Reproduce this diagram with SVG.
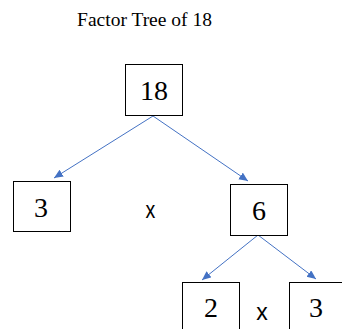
<svg xmlns="http://www.w3.org/2000/svg" width="342" height="329" viewBox="0 0 342 329">
<style>
.box{fill:#fff;stroke:#000;stroke-width:1}
.num{font-family:"Liberation Serif",serif;font-size:28px;fill:#000;text-anchor:middle}
.op{font-family:"Liberation Sans",sans-serif;font-size:23px;fill:#000;text-anchor:middle}
.edge{stroke:#4472C4;stroke-width:1;fill:none;marker-end:url(#ah)}
</style>
<defs>
<marker id="ah" markerUnits="userSpaceOnUse" markerWidth="10" markerHeight="10" refX="9" refY="4" orient="auto">
<path d="M0,0 L9,4 L0,8 Z" fill="#4472C4"/>
</marker>
</defs>
<rect width="342" height="329" fill="#fff"/>
<text x="144.5" y="26" font-family="Liberation Serif,serif" font-size="19.5" text-anchor="middle">Factor Tree of 18</text>
<g id="connectors">
<line class="edge" x1="153" y1="116" x2="54" y2="178"/>
<line class="edge" x1="153" y1="116" x2="248" y2="181"/>
<line class="edge" x1="258" y1="235" x2="202" y2="280"/>
<line class="edge" x1="258" y1="235" x2="316" y2="279"/>
</g>
<g id="n18"><rect class="box" x="125.5" y="64.5" width="57" height="51"/><text class="num" x="154" y="100">18</text></g>
<g id="n3a"><rect class="box" x="13.5" y="181.5" width="57" height="50"/><text class="num" x="41" y="217">3</text></g>
<g id="x1"><text class="op" transform="translate(150.5,218) scale(0.85,1)">x</text></g>
<g id="n6"><rect class="box" x="230.5" y="184.5" width="57" height="51"/><text class="num" x="259" y="220">6</text></g>
<g id="n2"><rect class="box" x="182.5" y="282.5" width="57" height="52"/><text class="num" x="211" y="317">2</text></g>
<g id="x2"><text class="op" x="262" y="320">x</text></g>
<g id="n3b"><rect class="box" x="289.5" y="282.5" width="57" height="52"/><text class="num" x="316" y="317">3</text></g>
</svg>
